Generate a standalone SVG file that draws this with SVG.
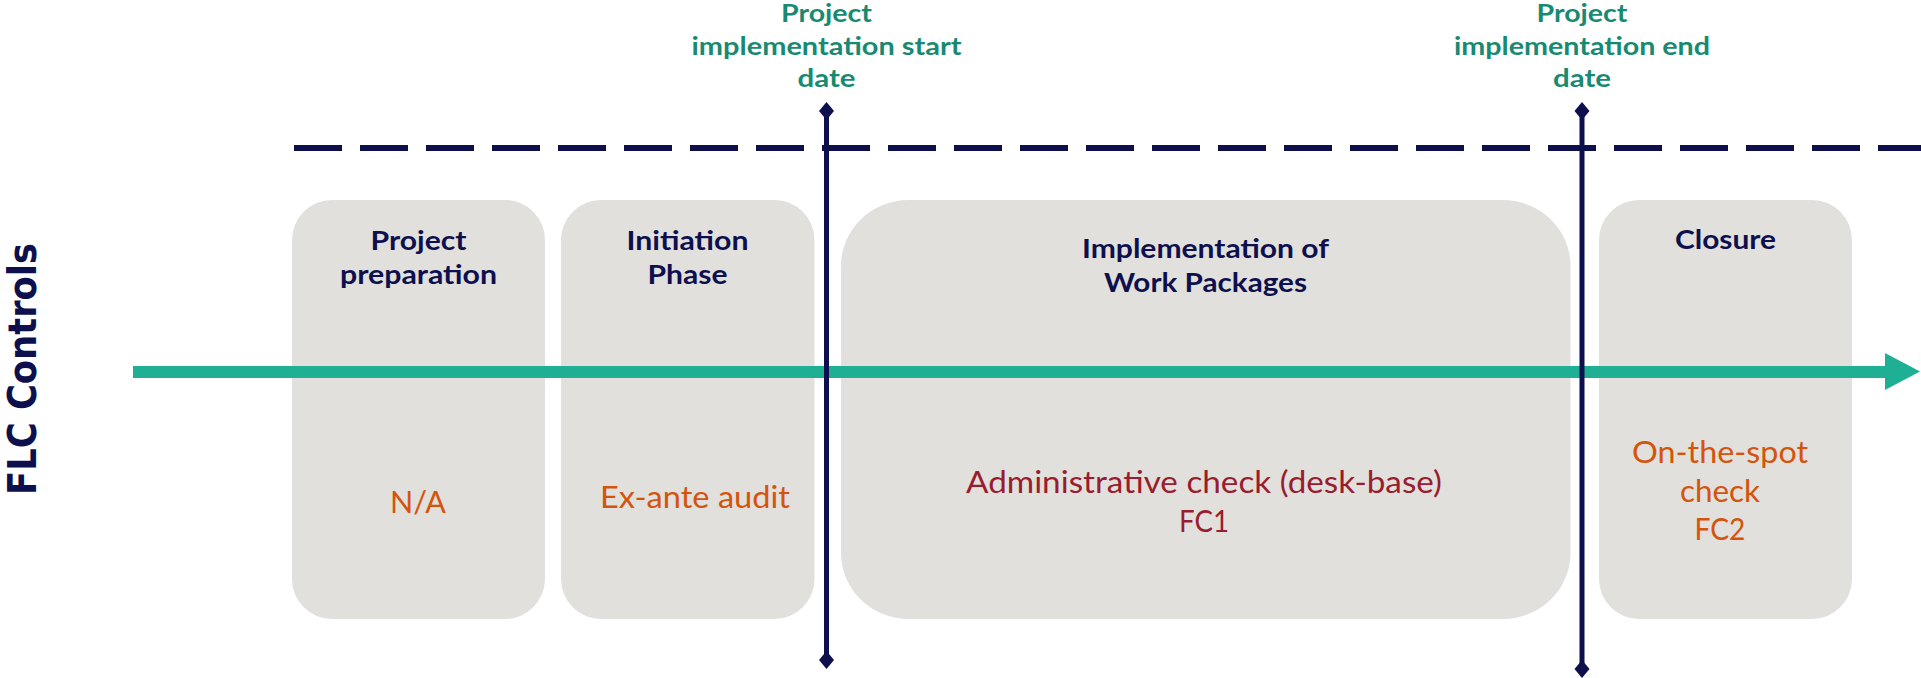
<svg xmlns="http://www.w3.org/2000/svg" width="1921" height="678" viewBox="0 0 1921 678">
  <style>
    .box { fill: #e1e0dc; }
    .hd { font-family: Lato, "Liberation Sans", sans-serif; font-weight: bold; font-size: 26px; fill: #0e104e; text-anchor: middle; }
    .ttl { font-family: Lato, "Liberation Sans", sans-serif; font-weight: bold; font-size: 24px; fill: #178a71; text-anchor: middle; }
    .body { font-family: Lato, "Liberation Sans", sans-serif; font-size: 31px; text-anchor: middle; }
    .or { fill: #d4540b; }
    .rd { fill: #9a1c2f; }
    .vline { stroke: #0e104e; stroke-width: 5; fill: none; }
    .diam { fill: #0e104e; }
  </style>
  <rect width="1921" height="678" fill="#ffffff"/>

  <text transform="translate(36,369) rotate(-90)" font-family="'DejaVu Sans', sans-serif" font-weight="bold" font-size="39" fill="#0e104e" text-anchor="middle" textLength="252" lengthAdjust="spacingAndGlyphs">FLC Controls</text>

  <g id="connectors">
    <line x1="294" y1="148" x2="1921" y2="148" stroke="#0e104e" stroke-width="6" stroke-dasharray="48 18"/>
  </g>

  <g id="node-preparation">
    <rect class="box" x="292" y="200" width="253" height="419" rx="40" ry="40"/>
    <text class="hd" x="418.5" y="250" textLength="96" lengthAdjust="spacingAndGlyphs">Project</text>
    <text class="hd" x="418.5" y="284" textLength="157" lengthAdjust="spacingAndGlyphs">preparation</text>
    <text class="body or" x="418" y="513" textLength="56" lengthAdjust="spacingAndGlyphs">N/A</text>
  </g>

  <g id="node-initiation">
    <rect class="box" x="561" y="200" width="253.5" height="419" rx="40" ry="40"/>
    <text class="hd" x="687.5" y="250" textLength="122" lengthAdjust="spacingAndGlyphs">Initiation</text>
    <text class="hd" x="687.5" y="284" textLength="80" lengthAdjust="spacingAndGlyphs">Phase</text>
    <text class="body or" x="695" y="508" textLength="190" lengthAdjust="spacingAndGlyphs">Ex-ante audit</text>
  </g>

  <g id="node-implementation">
    <rect class="box" x="841" y="200" width="729.5" height="419" rx="68" ry="66"/>
    <text class="hd" x="1205.5" y="258" textLength="247" lengthAdjust="spacingAndGlyphs">Implementation of</text>
    <text class="hd" x="1205.5" y="292" textLength="203" lengthAdjust="spacingAndGlyphs">Work Packages</text>
    <text class="body rd" x="1204" y="493" textLength="476" lengthAdjust="spacingAndGlyphs">Administrative check (desk-base)</text>
    <text class="body rd" x="1204" y="532" textLength="50" lengthAdjust="spacingAndGlyphs">FC1</text>
  </g>

  <g id="node-closure">
    <rect class="box" x="1599" y="200" width="253" height="419" rx="40" ry="40"/>
    <text class="hd" x="1725.5" y="249" textLength="101" lengthAdjust="spacingAndGlyphs">Closure</text>
    <text class="body or" x="1720" y="463" textLength="176" lengthAdjust="spacingAndGlyphs">On-the-spot</text>
    <text class="body or" x="1720" y="502" textLength="80" lengthAdjust="spacingAndGlyphs">check</text>
    <text class="body or" x="1720" y="540" textLength="51" lengthAdjust="spacingAndGlyphs">FC2</text>
  </g>

  <g id="timeline">
    <rect x="133" y="366" width="1753" height="12" fill="#1eaf94"/>
    <polygon points="1885,353 1920,371.5 1885,390" fill="#1eaf94"/>
  </g>

  <g id="milestone-start">
    <line class="vline" x1="826.5" y1="111" x2="826.5" y2="660"/>
    <polygon class="diam" points="826.5,102 834,111 826.5,120 819,111"/>
    <polygon class="diam" points="826.5,651 834,660 826.5,669 819,660"/>
    <text class="ttl" x="826.5" y="22" textLength="91" lengthAdjust="spacingAndGlyphs">Project</text>
    <text class="ttl" x="826.5" y="54.5" textLength="270" lengthAdjust="spacingAndGlyphs">implementation start</text>
    <text class="ttl" x="826.5" y="87" textLength="58" lengthAdjust="spacingAndGlyphs">date</text>
  </g>

  <g id="milestone-end">
    <line class="vline" x1="1582" y1="111" x2="1582" y2="669"/>
    <polygon class="diam" points="1582,102 1589.5,111 1582,120 1574.5,111"/>
    <polygon class="diam" points="1582,660 1589.5,669 1582,678 1574.5,669"/>
    <text class="ttl" x="1582" y="22" textLength="91" lengthAdjust="spacingAndGlyphs">Project</text>
    <text class="ttl" x="1582" y="54.5" textLength="256" lengthAdjust="spacingAndGlyphs">implementation end</text>
    <text class="ttl" x="1582" y="87" textLength="58" lengthAdjust="spacingAndGlyphs">date</text>
  </g>
</svg>
